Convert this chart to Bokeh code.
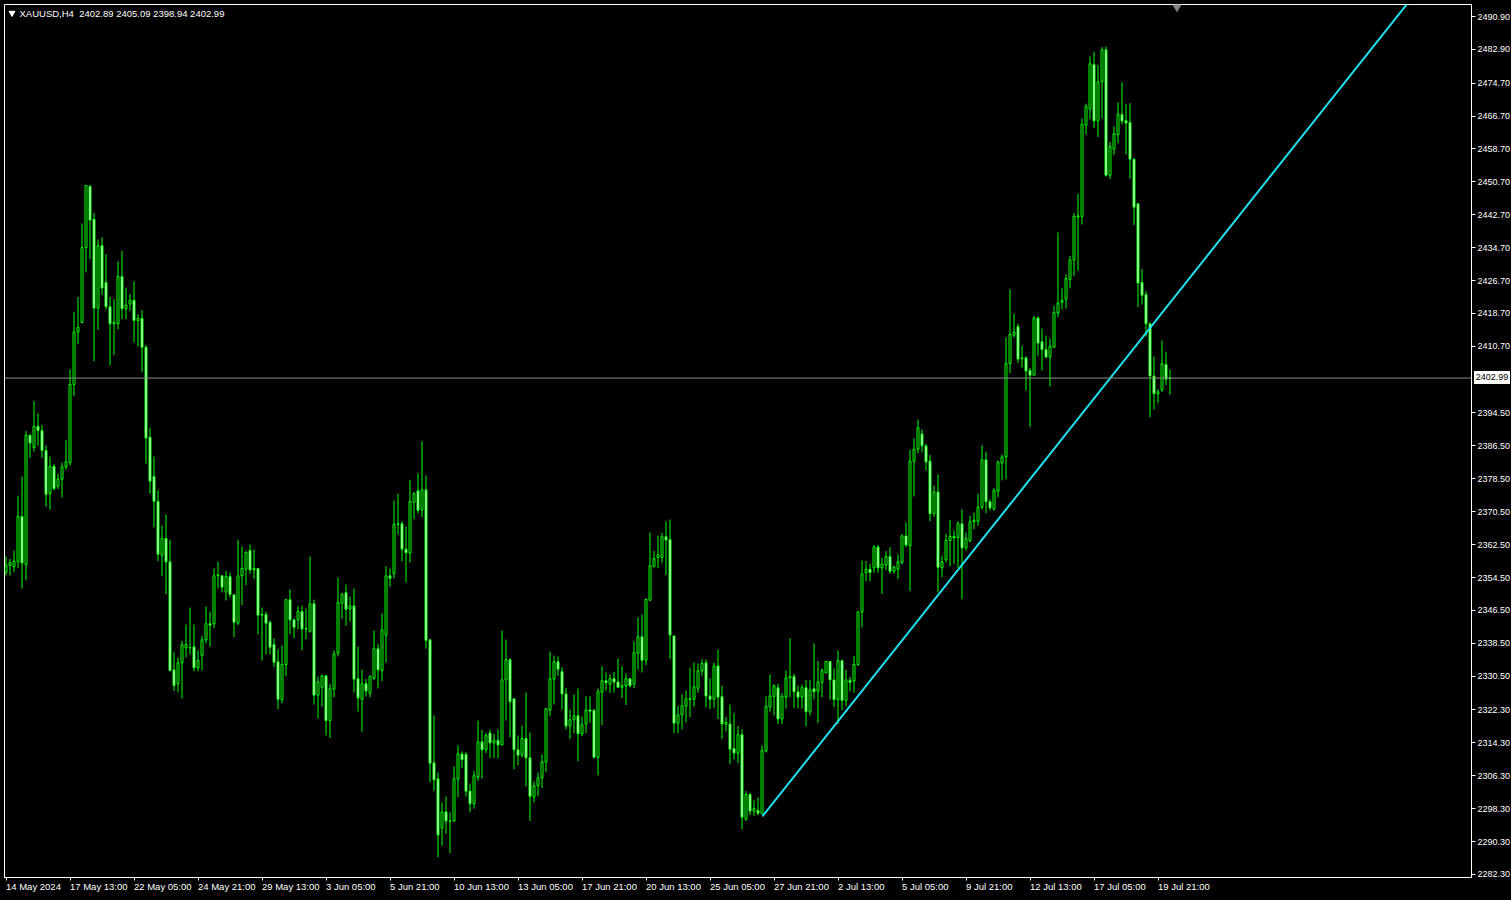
from bokeh.plotting import figure
from bokeh.layouts import column
from bokeh.models import (Range1d, FixedTicker, PrintfTickFormatter, Label, Span, Div,
                          ColumnDataSource, GlobalInlineStyleSheet)
from bokeh.embed import file_html
from bokeh.resources import INLINE

symbol = "XAUUSD,H4"

opens = [
    2355.8, 2357.4, 2357.1, 2358.3, 2369.35, 2357.6, 2389.1, 2386.1, 2391.25, 2390.25,
    2385.4, 2374.9, 2381.55, 2376.7, 2378.4, 2381.4, 2382.4, 2401.45, 2414.2, 2416.5,
    2434.7, 2449.6, 2441.6, 2420.0, 2435.2, 2426.2, 2420.35, 2416.2, 2416.2, 2427.7,
    2419.85, 2421.0, 2421.9, 2417.0, 2417.5, 2410.5, 2388.6, 2379.05, 2373.0, 2359.9,
    2364.0, 2358.3, 2332.05, 2328.65, 2333.75, 2337.4, 2337.4, 2337.65, 2332.55, 2335.6,
    2339.35, 2343.25, 2343.25, 2354.9, 2354.9, 2351.0, 2354.75, 2350.3, 2343.4, 2354.9,
    2356.5, 2361.1, 2356.3, 2356.7, 2345.35, 2345.5, 2343.6, 2338.2, 2334.0, 2324.8,
    2333.3, 2349.1, 2344.2, 2344.2, 2346.2, 2342.0, 2341.45, 2348.1, 2325.9, 2327.8,
    2330.6, 2319.7, 2327.35, 2336.1, 2348.25, 2350.8, 2346.8, 2347.6, 2329.9, 2324.9,
    2328.65, 2326.4, 2330.0, 2337.15, 2331.9, 2340.5, 2354.9, 2355.5, 2367.4, 2367.55,
    2361.4, 2360.4, 2372.8, 2375.6, 2370.95, 2375.8, 2339.35, 2309.45, 2305.55, 2293.6,
    2297.5, 2295.3, 2295.3, 2305.5, 2311.6, 2311.5, 2302.6, 2299.5, 2305.95, 2314.55,
    2312.6, 2316.7, 2314.3, 2314.9, 2313.8, 2329.6, 2334.5, 2325.0, 2312.6, 2311.3,
    2315.35, 2310.65, 2301.1, 2303.85, 2305.8, 2309.6, 2322.3, 2329.8, 2334.0, 2331.6,
    2326.2, 2318.4, 2319.9, 2320.9, 2316.5, 2318.9, 2322.3, 2322.2, 2310.8, 2326.6,
    2329.4, 2328.6, 2329.9, 2329.1, 2327.8, 2328.1, 2329.9, 2328.6, 2336.1, 2340.1,
    2334.4, 2349.0, 2357.25, 2359.4, 2359.4, 2364.4, 2363.7, 2340.3, 2319.1, 2321.1,
    2323.2, 2325.0, 2324.9, 2327.6, 2331.8, 2333.75, 2325.7, 2324.9, 2333.0, 2325.5,
    2318.8, 2318.9, 2312.9, 2311.8, 2316.3, 2295.75, 2301.75, 2297.7, 2297.85, 2297.05,
    2312.3, 2323.0, 2325.6, 2327.7, 2320.1, 2325.4, 2330.1, 2330.4, 2326.7, 2325.4,
    2327.7, 2321.85, 2327.45, 2326.9, 2329.0, 2331.3, 2334.1, 2329.6, 2324.8, 2334.3,
    2324.6, 2329.5, 2329.3, 2333.35, 2346.15, 2355.7, 2356.5, 2356.85, 2361.9, 2356.85,
    2357.5, 2359.6, 2356.0, 2356.5, 2358.15, 2364.6, 2362.2, 2382.8, 2385.7, 2389.4,
    2386.5, 2382.8, 2370.0, 2375.3, 2356.85, 2358.8, 2363.5, 2364.5, 2364.15, 2367.55,
    2361.7, 2363.5, 2368.05, 2368.2, 2371.6, 2383.1, 2372.9, 2371.1, 2375.5, 2382.3,
    2383.8, 2406.5, 2413.4, 2415.5, 2407.75, 2407.9, 2404.85, 2403.7, 2417.6, 2411.8,
    2409.9, 2408.1, 2410.5, 2418.8, 2421.4, 2422.2, 2427.0, 2431.7, 2442.1, 2442.3,
    2464.5, 2468.4, 2479.2, 2465.5, 2475.0, 2482.8, 2452.3, 2458.65, 2462.2, 2467.1,
    2465.6, 2465.1, 2456.2, 2445.4, 2426.25, 2423.3, 2416.2, 2403.5, 2399.2, 2400.1,
    2406.3, 2402.89,
]

highs = [
    2359.65, 2359.0, 2361.0, 2374.4, 2379.05, 2390.1, 2389.25, 2397.4, 2394.4, 2391.6,
    2386.6, 2383.9, 2382.0, 2379.7, 2382.4, 2387.9, 2405.1, 2419.0, 2422.7, 2440.6,
    2449.95, 2449.95, 2443.1, 2436.7, 2437.2, 2433.1, 2422.7, 2422.2, 2431.4, 2433.9,
    2425.0, 2423.4, 2426.5, 2418.5, 2419.5, 2411.0, 2390.9, 2383.9, 2375.7, 2367.15,
    2369.8, 2363.7, 2336.3, 2335.05, 2339.1, 2343.05, 2347.2, 2343.05, 2336.75, 2340.3,
    2347.45, 2346.2, 2356.7, 2358.3, 2355.0, 2356.1, 2355.7, 2350.3, 2363.7, 2362.05,
    2360.9, 2362.5, 2361.3, 2356.7, 2347.2, 2346.2, 2344.05, 2339.7, 2337.0, 2337.95,
    2349.1, 2351.6, 2344.5, 2347.5, 2347.7, 2346.95, 2359.6, 2349.1, 2330.4, 2330.9,
    2330.6, 2328.65, 2336.75, 2354.5, 2350.6, 2352.8, 2349.9, 2351.8, 2337.7, 2332.1,
    2329.8, 2330.75, 2341.6, 2338.4, 2345.75, 2357.2, 2356.7, 2373.2, 2374.85, 2368.2,
    2366.9, 2378.25, 2375.25, 2379.8, 2387.6, 2379.3, 2339.35, 2320.95, 2307.1, 2299.8,
    2301.25, 2297.4, 2308.55, 2313.7, 2312.2, 2312.0, 2304.4, 2307.5, 2319.7, 2317.45,
    2316.65, 2317.55, 2316.5, 2317.55, 2341.6, 2339.4, 2334.8, 2325.0, 2316.1, 2318.5,
    2326.5, 2316.8, 2304.9, 2307.1, 2311.5, 2322.6, 2336.5, 2335.5, 2335.3, 2332.7,
    2327.7, 2322.4, 2326.05, 2327.5, 2320.7, 2325.6, 2325.6, 2322.5, 2327.5, 2332.9,
    2331.4, 2330.9, 2331.55, 2334.8, 2332.9, 2331.15, 2329.9, 2338.95, 2344.8, 2345.5,
    2349.4, 2365.4, 2360.9, 2364.7, 2365.4, 2368.1, 2368.6, 2340.3, 2323.3, 2326.05,
    2327.0, 2332.6, 2333.8, 2333.6, 2334.6, 2334.6, 2329.95, 2333.8, 2337.0, 2328.2,
    2320.55, 2323.6, 2321.5, 2318.4, 2317.6, 2302.55, 2302.1, 2300.3, 2301.0, 2313.65,
    2325.6, 2330.9, 2328.5, 2328.65, 2326.4, 2331.9, 2339.7, 2331.1, 2328.2, 2328.5,
    2329.6, 2329.5, 2338.5, 2334.2, 2332.4, 2334.1, 2334.2, 2332.4, 2336.75, 2334.5,
    2332.05, 2330.3, 2335.45, 2346.15, 2358.6, 2358.5, 2357.8, 2362.4, 2362.4, 2359.3,
    2360.9, 2361.9, 2357.35, 2360.1, 2365.0, 2367.9, 2385.55, 2388.3, 2392.9, 2390.5,
    2387.0, 2384.25, 2376.8, 2379.55, 2359.8, 2365.1, 2368.5, 2365.9, 2368.2, 2371.1,
    2365.45, 2369.5, 2370.3, 2374.85, 2386.7, 2385.1, 2373.55, 2376.15, 2383.0, 2384.4,
    2412.9, 2424.6, 2418.6, 2416.2, 2410.8, 2408.25, 2405.5, 2418.1, 2418.0, 2415.05,
    2413.3, 2412.6, 2420.6, 2438.4, 2424.8, 2428.2, 2432.7, 2443.1, 2447.8, 2466.1,
    2469.7, 2481.2, 2482.3, 2479.1, 2483.45, 2483.6, 2460.4, 2464.2, 2470.0, 2474.9,
    2469.7, 2469.8, 2456.4, 2445.5, 2429.5, 2424.1, 2416.5, 2408.25, 2400.3, 2412.1,
    2409.4, 2405.09,
]

lows = [
    2355.0, 2355.0, 2355.8, 2356.8, 2351.8, 2353.8, 2383.6, 2385.1, 2386.6, 2383.6,
    2371.7, 2371.0, 2375.7, 2376.0, 2374.0, 2380.7, 2381.7, 2398.6, 2411.3, 2416.5,
    2428.7, 2431.9, 2407.1, 2414.7, 2423.2, 2419.7, 2406.1, 2408.6, 2414.8, 2417.3,
    2417.3, 2419.35, 2411.65, 2410.65, 2404.5, 2382.2, 2374.9, 2366.7, 2358.5, 2354.8,
    2350.45, 2331.7, 2326.9, 2326.55, 2325.1, 2335.1, 2335.8, 2331.7, 2331.7, 2331.9,
    2338.5, 2337.7, 2342.2, 2351.85, 2350.85, 2348.9, 2349.6, 2340.0, 2342.9, 2347.8,
    2352.65, 2355.4, 2354.1, 2340.65, 2334.3, 2335.8, 2335.8, 2332.7, 2322.5, 2323.95,
    2330.5, 2340.7, 2339.75, 2341.95, 2336.8, 2339.5, 2341.1, 2323.6, 2320.2, 2323.1,
    2316.1, 2315.5, 2325.4, 2335.3, 2344.5, 2342.8, 2343.8, 2326.5, 2321.9, 2317.0,
    2325.6, 2325.4, 2329.6, 2327.5, 2329.3, 2333.8, 2352.3, 2354.25, 2364.95, 2358.4,
    2353.3, 2358.15, 2368.7, 2370.1, 2369.2, 2337.2, 2304.7, 2302.7, 2286.5, 2289.3,
    2292.2, 2287.5, 2295.1, 2301.1, 2308.15, 2301.25, 2297.4, 2298.3, 2305.0, 2305.6,
    2311.8, 2310.6, 2310.6, 2310.6, 2313.7, 2319.7, 2315.7, 2307.9, 2308.9, 2310.8,
    2303.7, 2295.3, 2299.8, 2301.4, 2303.3, 2307.2, 2320.8, 2323.6, 2330.6, 2322.4,
    2317.6, 2315.2, 2316.65, 2309.85, 2315.9, 2316.65, 2319.25, 2310.5, 2306.4, 2318.6,
    2327.0, 2326.4, 2326.6, 2327.7, 2325.2, 2323.5, 2327.8, 2327.6, 2332.1, 2331.4,
    2333.2, 2348.75, 2356.9, 2356.8, 2358.0, 2355.1, 2334.65, 2316.65, 2316.65, 2317.6,
    2319.25, 2320.55, 2323.1, 2326.5, 2330.6, 2323.0, 2322.5, 2322.7, 2320.1, 2315.2,
    2317.1, 2309.2, 2310.3, 2309.35, 2293.3, 2295.3, 2296.7, 2296.55, 2296.7, 2297.05,
    2311.95, 2321.85, 2321.0, 2318.8, 2318.9, 2322.65, 2325.4, 2322.8, 2322.65, 2322.65,
    2318.3, 2320.95, 2324.9, 2319.1, 2325.4, 2331.25, 2324.8, 2323.0, 2318.9, 2322.2,
    2323.15, 2326.9, 2326.5, 2333.0, 2342.4, 2353.6, 2353.6, 2355.7, 2355.7, 2350.5,
    2356.3, 2355.4, 2355.5, 2354.1, 2357.7, 2361.9, 2351.2, 2374.2, 2384.7, 2384.9,
    2380.5, 2368.2, 2369.3, 2350.9, 2354.6, 2358.15, 2357.2, 2357.8, 2356.85, 2349.2,
    2361.1, 2363.0, 2366.25, 2367.1, 2371.1, 2370.15, 2370.8, 2370.8, 2374.0, 2378.1,
    2378.4, 2404.2, 2412.8, 2406.6, 2405.5, 2400.0, 2391.1, 2403.7, 2408.4, 2404.85,
    2407.9, 2400.95, 2410.5, 2417.8, 2419.75, 2419.9, 2424.8, 2427.85, 2429.15, 2440.3,
    2462.2, 2465.9, 2463.8, 2461.6, 2466.1, 2452.0, 2451.35, 2457.2, 2460.1, 2464.65,
    2457.35, 2451.5, 2440.2, 2420.2, 2420.9, 2413.1, 2393.5, 2395.4, 2396.9, 2399.65,
    2401.3, 2398.94,
]

closes = [
    2357.5, 2358.05, 2358.5, 2369.35, 2358.0, 2389.1, 2387.2, 2391.25, 2390.25, 2385.4,
    2374.7, 2381.55, 2376.1, 2378.4, 2381.4, 2382.6, 2401.45, 2414.2, 2415.3, 2434.7,
    2449.8, 2441.4, 2420.0, 2435.2, 2424.9, 2420.35, 2416.2, 2416.6, 2427.7, 2419.85,
    2420.7, 2421.9, 2417.0, 2417.5, 2410.5, 2388.4, 2377.9, 2373.0, 2360.15, 2364.0,
    2358.3, 2331.9, 2328.2, 2333.75, 2338.1, 2338.2, 2337.5, 2332.55, 2334.3, 2339.35,
    2343.25, 2342.9, 2354.9, 2355.15, 2352.15, 2354.75, 2350.4, 2343.65, 2354.9, 2356.7,
    2360.6, 2356.35, 2356.7, 2345.35, 2345.5, 2343.4, 2337.55, 2333.9, 2324.9, 2333.35,
    2349.1, 2344.2, 2342.4, 2346.2, 2342.0, 2342.1, 2348.1, 2325.9, 2329.1, 2330.6,
    2319.7, 2327.45, 2335.9, 2348.4, 2350.5, 2346.8, 2347.6, 2329.8, 2325.2, 2328.65,
    2326.9, 2330.4, 2337.15, 2332.05, 2341.8, 2354.9, 2354.3, 2367.4, 2367.55, 2361.4,
    2360.5, 2373.0, 2374.9, 2370.8, 2375.8, 2339.2, 2309.35, 2305.3, 2291.9, 2297.5,
    2295.3, 2295.2, 2305.55, 2311.6, 2310.2, 2302.55, 2299.5, 2306.3, 2314.55, 2312.6,
    2316.1, 2314.3, 2314.9, 2313.8, 2329.6, 2334.5, 2324.3, 2312.6, 2311.3, 2315.35,
    2310.65, 2301.3, 2303.85, 2305.8, 2309.7, 2322.6, 2329.9, 2334.0, 2332.2, 2326.2,
    2318.4, 2319.9, 2320.9, 2316.5, 2318.7, 2322.3, 2322.0, 2310.8, 2326.7, 2329.4,
    2328.9, 2329.9, 2329.1, 2327.8, 2328.2, 2329.9, 2328.2, 2336.2, 2340.1, 2334.4,
    2349.15, 2357.35, 2359.1, 2360.0, 2364.4, 2363.6, 2340.5, 2319.1, 2321.1, 2323.3,
    2325.0, 2324.8, 2327.9, 2331.8, 2333.6, 2325.7, 2324.9, 2333.0, 2325.4, 2318.9,
    2319.25, 2312.75, 2311.8, 2316.3, 2296.2, 2301.75, 2297.7, 2298.3, 2297.2, 2312.4,
    2323.15, 2325.7, 2328.2, 2320.1, 2325.6, 2330.1, 2330.4, 2326.7, 2325.4, 2327.7,
    2321.85, 2327.2, 2326.7, 2329.1, 2331.9, 2334.1, 2329.6, 2324.8, 2334.3, 2324.6,
    2329.6, 2329.0, 2333.35, 2346.15, 2355.4, 2356.5, 2355.7, 2361.9, 2356.85, 2357.7,
    2359.6, 2356.0, 2357.0, 2358.3, 2364.6, 2362.4, 2382.8, 2385.7, 2390.9, 2386.5,
    2382.6, 2370.0, 2375.3, 2357.0, 2358.3, 2363.5, 2364.5, 2364.15, 2367.55, 2361.7,
    2364.0, 2368.05, 2368.4, 2371.6, 2383.1, 2372.9, 2371.45, 2375.7, 2382.5, 2383.8,
    2406.5, 2413.6, 2414.2, 2407.6, 2407.9, 2404.7, 2403.7, 2417.6, 2411.5, 2409.9,
    2408.1, 2410.7, 2418.9, 2421.2, 2421.9, 2427.2, 2431.7, 2442.3, 2442.4, 2464.65,
    2469.0, 2479.4, 2465.5, 2475.0, 2482.8, 2452.3, 2459.3, 2462.4, 2467.1, 2465.5,
    2465.0, 2456.2, 2444.55, 2426.1, 2423.15, 2416.2, 2403.5, 2399.2, 2399.65, 2406.5,
    2402.7, 2402.99,
]

time_labels = [
    "14 May 2024", "17 May 13:00", "22 May 05:00", "24 May 21:00", "29 May 13:00",
    "3 Jun 05:00", "5 Jun 21:00", "10 Jun 13:00", "13 Jun 05:00", "17 Jun 21:00",
    "20 Jun 13:00", "25 Jun 05:00", "27 Jun 21:00", "2 Jul 13:00", "5 Jul 05:00",
    "9 Jul 21:00", "12 Jul 13:00", "17 Jul 05:00", "19 Jul 21:00",
]
label_step = 16  # bars between time labels

price_ticks = [
    2490.90, 2482.90, 2474.70, 2466.70, 2458.70, 2450.70, 2442.70, 2434.70, 2426.70,
    2418.70, 2410.70, 2394.50, 2386.50, 2378.50, 2370.50, 2362.50, 2354.50, 2346.50,
    2338.50, 2330.50, 2322.30, 2314.30, 2306.30, 2298.30, 2290.30, 2282.30,
]

# trend line anchors (bar index, price)
trend_bars = [189.1, 349.9]
trend_prices = [2296.4, 2493.5]

# ---------------- layout ----------------
FRAME_W, FRAME_H = 1467, 873
BORDER_L, BORDER_T = 4, 4
PX_PER_BAR = 4.0
Y_LO, Y_HI = 2281.56, 2493.82
X_LO = -1.5 / PX_PER_BAR
X_HI = X_LO + FRAME_W / PX_PER_BAR
UPP = (Y_HI - Y_LO) / FRAME_H

LIME = "#00FF00"
FONT = "Liberation Sans"
TIME_FS = 9.5
PRICE_FS = "9px"

# Arial/Liberation advance widths (1/1000 em), for left-aligning time labels at their tick
CHAR_EM = {" ": 278, ":": 278, "M": 833, "J": 500, "a": 556, "y": 500, "u": 556,
           "n": 556, "l": 222}


def text_px(s, size):
    return sum(CHAR_EM.get(ch, 556) for ch in s) * size / 1000.0


n = len(closes)
xs = list(range(n))
tops = [max(o, c) for o, c in zip(opens, closes)]
bots = [min(o, c) for o, c in zip(opens, closes)]
fills = ["#000000" if c >= o else "#FFFFFF" for o, c in zip(opens, closes)]
hi_plot = [max(h, t) for h, t in zip(highs, tops)]
lo_plot = [min(l, b) for l, b in zip(lows, bots)]

src = ColumnDataSource(dict(x=xs, top=tops, bot=bots, hi=hi_plot, lo=lo_plot, fill=fills))

p = figure(frame_width=FRAME_W, frame_height=FRAME_H,
           x_range=Range1d(X_LO, X_HI), y_range=Range1d(Y_LO, Y_HI),
           output_backend="svg", toolbar_location=None, y_axis_location="right",
           background_fill_color="black", border_fill_color="black",
           min_border_left=BORDER_L, min_border_top=BORDER_T,
           min_border_right=38, min_border_bottom=23)
p.stylesheets = [GlobalInlineStyleSheet(css="html, body { background-color: #000000; }")]
p.grid.visible = False
p.outline_line_color = "white"
p.outline_line_width = 1

# current price line
p.add_layout(Span(location=closes[-1], dimension="width", line_color="#8c8c8c", line_width=1))

# candles
p.segment(x0="x", y0="lo", x1="x", y1="hi", source=src, line_color=LIME, line_width=1)
p.vbar(x="x", width=0.5, top="top", bottom="bot", source=src,
       fill_color="fill", line_color=LIME, line_width=1)

# trend line (ray extended to the right)
slope = (trend_prices[1] - trend_prices[0]) / (trend_bars[1] - trend_bars[0])
ext = X_HI
p.line(x=[trend_bars[0], ext], y=[trend_prices[0], trend_prices[0] + slope * (ext - trend_bars[0])],
       line_color="#20E0EE", line_width=2)

# price axis
yax = p.yaxis[0]
yax.ticker = FixedTicker(ticks=price_ticks, minor_ticks=[])
yax.formatter = PrintfTickFormatter(format="%.2f")
yax.major_tick_out = 4
yax.major_tick_in = 0
yax.minor_tick_out = 0
yax.minor_tick_in = 0
yax.major_tick_line_color = "white"
yax.axis_line_color = "white"
yax.major_label_text_color = "white"
yax.major_label_text_font = FONT
yax.major_label_text_font_size = PRICE_FS
yax.major_label_standoff = 2

# time axis: tick marks (minor) at the label bars, label text starting at the tick
label_bars = [i * label_step for i in range(len(time_labels))]
label_centres = [round(b + text_px(t, TIME_FS) / 2 / PX_PER_BAR, 3)
                 for b, t in zip(label_bars, time_labels)]
xax = p.xaxis[0]
xax.ticker = FixedTicker(ticks=label_centres, minor_ticks=label_bars)
xax.major_label_overrides = {c: t for c, t in zip(label_centres, time_labels)}
xax.major_tick_out = 0
xax.major_tick_in = 0
xax.major_tick_line_color = None
xax.minor_tick_out = 3
xax.minor_tick_in = 0
xax.minor_tick_line_color = "white"
xax.axis_line_color = "white"
xax.major_label_text_color = "white"
xax.major_label_text_font = FONT
xax.major_label_text_font_size = f"{TIME_FS}px"
xax.major_label_standoff = 0

# title
title = f"{symbol} \u00a0{opens[-1]:.2f} {highs[-1]:.2f} {lows[-1]:.2f} {closes[-1]:.2f}"
p.add_layout(Label(x=X_LO, y=Y_HI, x_offset=15, y_offset=-9, text=title,
                   text_align="left", text_baseline="middle", text_color="white",
                   text_font=FONT, text_font_size=f"{TIME_FS}px"))
p.scatter(x=[X_LO + 7.5 / PX_PER_BAR], y=[Y_HI - 8.5 * UPP], marker="inverted_triangle",
          size=6, fill_color="white", line_color="white")

# chart shift marker
p.scatter(x=[n - 1 + 1.75], y=[Y_HI - 2.5 * UPP], marker="inverted_triangle",
          size=8, fill_color="#808080", line_color="#808080")

# current price tag on the price scale (white box, black text)
TAG_W, TAG_H = 36, 13
tag_y = BORDER_T + (Y_HI - closes[-1]) / UPP
tag = Div(text=f"{closes[-1]:.2f}",
          styles={"position": "absolute",
                  "left": f"{BORDER_L + FRAME_W + 3}px",
                  "top": f"{tag_y - TAG_H / 2:.1f}px",
                  "width": f"{TAG_W}px", "height": f"{TAG_H}px",
                  "padding": "0px", "margin": "0px",
                  "box-sizing": "border-box", "overflow": "visible",
                  "white-space": "nowrap", "text-align": "center",
                  "background-color": "#FFFFFF", "color": "#000000",
                  "font-family": FONT, "font-size": PRICE_FS,
                  "line-height": f"{TAG_H}px", "z-index": "10"})

root = column(p, tag)
open("out.html", "w").write(file_html(root, INLINE))
